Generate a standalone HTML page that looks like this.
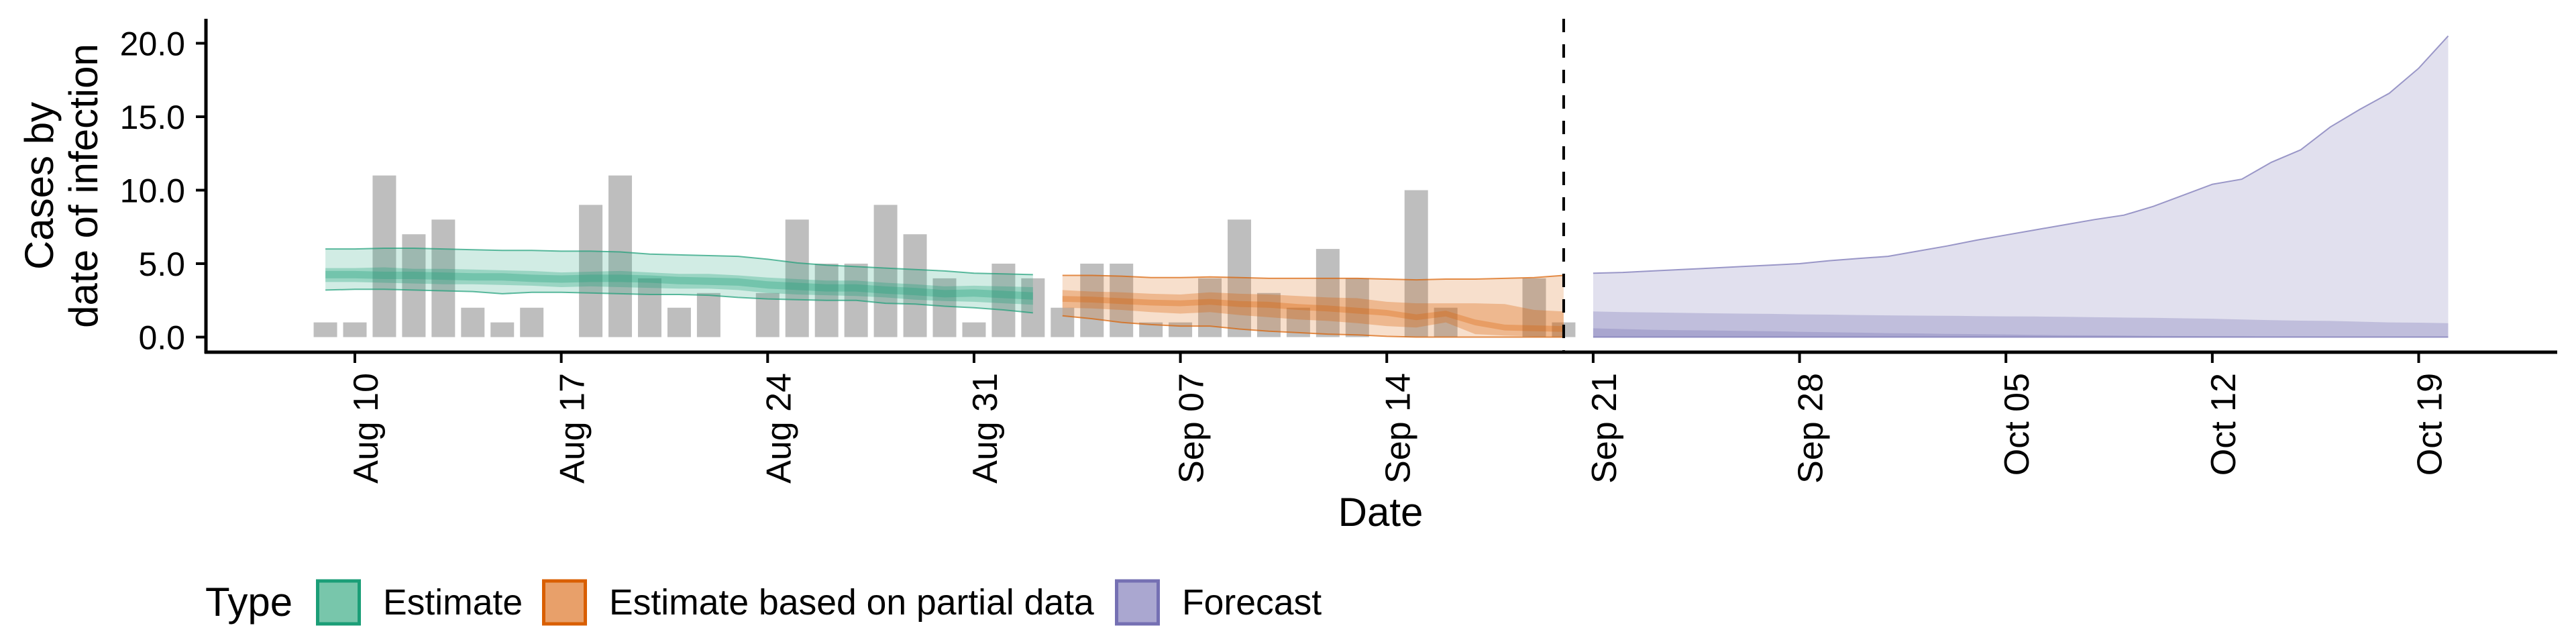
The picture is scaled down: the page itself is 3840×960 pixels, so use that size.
<!DOCTYPE html>
<html><head><meta charset="utf-8"><style>
html,body{margin:0;padding:0;background:#fff;}
svg{display:block;font-family:"Liberation Sans",Arial,sans-serif;}
</style></head><body>
<svg id="chart" width="3840" height="960" viewBox="0 0 3840 960" xmlns="http://www.w3.org/2000/svg">
<g id="bars"></g>
<g id="ribbons"></g>
<g id="axes"></g>
<g id="legend"></g>
</svg>
<script>
// ---- data ----
const barStart = 0; // day index of Aug 09
const caseCounts = [1,1,11,7,8,2,1,2,0,9,11,4,2,3,0,3,8,5,5,9,7,4,1,5,4,2,5,5,1,1,4,8,3,2,6,4,0,10,2,0,0,4,1];
const estStart = 0; // Aug 09
const estU90 = [6.0,6.0,6.05,6.05,6.0,5.95,5.9,5.9,5.85,5.85,5.8,5.65,5.6,5.55,5.5,5.3,5.05,4.9,4.8,4.7,4.6,4.5,4.35,4.3,4.25];
const estU50 = [4.7,4.7,4.75,4.65,4.65,4.6,4.55,4.5,4.4,4.45,4.5,4.4,4.3,4.3,4.2,4.05,3.95,3.85,3.85,3.7,3.6,3.45,3.5,3.45,3.4];
const estU20 = [4.5,4.5,4.45,4.45,4.4,4.35,4.35,4.25,4.2,4.25,4.25,4.2,4.1,4.05,4.0,3.8,3.7,3.6,3.6,3.45,3.35,3.2,3.25,3.15,3.05];
const estL20 = [4.0,4.0,3.95,3.95,3.9,3.85,3.85,3.75,3.7,3.75,3.75,3.7,3.6,3.55,3.5,3.3,3.2,3.1,3.1,2.95,2.85,2.7,2.75,2.65,2.55];
const estL50 = [3.75,3.75,3.7,3.65,3.6,3.6,3.55,3.5,3.4,3.45,3.4,3.35,3.3,3.3,3.2,3.0,2.9,2.85,2.8,2.7,2.55,2.45,2.4,2.3,2.2];
const estL90 = [3.2,3.25,3.25,3.2,3.15,3.1,2.95,3.05,3.05,3.0,2.95,2.9,2.9,2.85,2.7,2.6,2.55,2.5,2.5,2.3,2.25,2.1,2.0,1.85,1.65];
const partStart = 25; // Sep 03
const partU90 = [4.2,4.2,4.15,4.05,4.05,4.1,4.05,4.0,4.0,4.0,4.0,3.95,3.9,3.95,3.95,4.0,4.05,4.2];
const partU50 = [3.2,3.1,3.05,2.95,2.9,3.05,2.95,2.9,2.8,2.7,2.65,2.4,2.3,2.3,2.3,2.25,1.85,1.75];
const partU20 = [2.8,2.75,2.65,2.55,2.5,2.6,2.45,2.4,2.25,2.15,2.0,1.85,1.55,1.8,1.2,0.85,0.8,0.75];
const partL20 = [2.4,2.35,2.25,2.15,2.1,2.2,2.05,2.0,1.85,1.75,1.6,1.45,1.15,1.4,0.8,0.45,0.4,0.35];
const partL50 = [2.0,1.95,1.85,1.7,1.6,1.7,1.5,1.35,1.2,1.1,0.95,0.75,0.65,1.0,0.2,0.1,0.05,0.05];
const partL90 = [1.45,1.25,1.0,0.85,0.75,0.75,0.55,0.4,0.3,0.2,0.15,0.05,0.0,0.0,0.0,0.0,0.0,0.0];
const fcStart = 43; // Sep 21
const fcU90 = [4.35,4.4,4.5,4.6,4.7,4.8,4.9,5.0,5.2,5.35,5.5,5.85,6.2,6.6,6.95,7.3,7.65,8.0,8.3,8.9,9.65,10.4,10.75,11.9,12.75,14.3,15.5,16.6,18.3,20.5];
const fcU50 = [1.75,1.7,1.68,1.65,1.62,1.6,1.58,1.55,1.53,1.5,1.48,1.46,1.45,1.43,1.41,1.4,1.38,1.35,1.33,1.31,1.28,1.25,1.2,1.15,1.12,1.1,1.05,1.0,0.98,0.95];
const fcU20 = [0.6,0.55,0.5,0.47,0.45,0.42,0.4,0.36,0.33,0.3,0.27,0.25,0.22,0.2,0.18,0.15,0.13,0.12,0.1,0.08,0.07,0.06,0.05,0.04,0.03,0.02,0.02,0.01,0.01,0.01];
const fcLow = [0,0,0,0,0,0,0,0,0,0,0,0,0,0,0,0,0,0,0,0,0,0,0,0,0,0,0,0,0,0];
const yTicks = [0,5,10,15,20];
const yTickLabels = ["0.0","5.0","10.0","15.0","20.0"];
const xTickDays = [1,8,15,22,29,36,43,50,57,64,71];
const xTickLabels = ["Aug 10","Aug 17","Aug 24","Aug 31","Sep 07","Sep 14","Sep 21","Sep 28","Oct 05","Oct 12","Oct 19"];
const cutoffDay = 42;
const legendLabels = ["Estimate","Estimate based on partial data","Forecast"];

// ---- scales ----
const X = d => 529 + (d - 1) * 43.95;
const Y = v => 502.5 - v * 21.9;
const NS = "http://www.w3.org/2000/svg";
function mk(tag, parent, attrs){ const e=document.createElementNS(NS,tag); for(const k in attrs) e.setAttribute(k,attrs[k]); parent.appendChild(e); return e; }

// bars
const gb = document.getElementById('bars');
caseCounts.forEach((v,i)=>{
  if(v<=0) return;
  const cx = X(barStart+i);
  const r = mk('rect', gb, {x:cx-17.5, y:Y(v), width:35, height:Y(0)-Y(v), fill:'#bebebe'});
  
  
});

// ribbons
const gr = document.getElementById('ribbons');
function band(start, up, lo, color, op, name, stroke){
  let pts=[];
  up.forEach((v,i)=>pts.push(X(start+i).toFixed(1)+','+Y(v).toFixed(1)));
  for(let i=lo.length-1;i>=0;i--) pts.push(X(start+i).toFixed(1)+','+Y(lo[i]).toFixed(1));
  const p = mk('polygon', gr, {points:pts.join(' '), fill:color, 'fill-opacity':op});
  
  
  if(stroke){
    [up,lo].forEach(arr=>{
      const l = mk('polyline', gr, {points:arr.map((v,i)=>X(start+i).toFixed(1)+','+Y(v).toFixed(1)).join(' '), fill:'none', stroke:color, 'stroke-width':2, 'stroke-opacity':0.7});
      
      
    });
  }
}
band(estStart, estU90, estL90, '#1b9e77', 0.2, 'estimate-90-band', true);
band(estStart, estU50, estL50, '#1b9e77', 0.3, 'estimate-50-band', false);
band(estStart, estU20, estL20, '#1b9e77', 0.3, 'estimate-20-band', false);
band(partStart, partU90, partL90, '#d95f02', 0.2, 'partial-90-band', true);
band(partStart, partU50, partL50, '#d95f02', 0.3, 'partial-50-band', false);
band(partStart, partU20, partL20, '#d95f02', 0.3, 'partial-20-band', false);
band(fcStart, fcU90, fcLow, '#7570b3', 0.22, 'forecast-90-band', true);
band(fcStart, fcU50, fcLow, '#7570b3', 0.3, 'forecast-50-band', false);
band(fcStart, fcU20, fcLow, '#7570b3', 0.3, 'forecast-20-band', false);

// axes
const ga = document.getElementById('axes');
let e;
e = mk('line', ga, {x1:X(cutoffDay), y1:28, x2:X(cutoffDay), y2:525, stroke:'#000', 'stroke-width':4, 'stroke-dasharray':'20 18'});


e = mk('line', ga, {x1:307, y1:28, x2:307, y2:527, stroke:'#000', 'stroke-width':5});


e = mk('line', ga, {x1:305, y1:525, x2:3812, y2:525, stroke:'#000', 'stroke-width':5});


yTicks.forEach((v,i)=>{
  const t = mk('line', ga, {x1:292, y1:Y(v), x2:307, y2:Y(v), stroke:'#000', 'stroke-width':4});
  
  
  const tx = mk('text', ga, {x:276, y:Y(v)+18, 'text-anchor':'end', 'font-size':50, fill:'#000'});
  tx.textContent = yTickLabels[i];
  
  
});
xTickDays.forEach((d,i)=>{
  const x = X(d);
  const t = mk('line', ga, {x1:x, y1:525, x2:x, y2:541, stroke:'#000', 'stroke-width':4});
  
  
  const tx = mk('text', ga, {x:0, y:0, 'text-anchor':'end', 'font-size':52, fill:'#000', transform:`translate(${(x+34).toFixed(1)},556) rotate(-90)`});
  tx.textContent = xTickLabels[i];
  
  
});
e = mk('text', ga, {x:2058, y:784, 'text-anchor':'middle', 'font-size':60, fill:'#000'});
e.textContent = 'Date';


e = mk('text', ga, {x:0, y:0, 'text-anchor':'middle', 'font-size':60, fill:'#000', transform:'translate(79,277) rotate(-90)'});
e.textContent = 'Cases by';


e = mk('text', ga, {x:0, y:0, 'text-anchor':'middle', 'font-size':60, fill:'#000', transform:'translate(145,277) rotate(-90)'});
e.textContent = 'date of infection';



// legend
const gl = document.getElementById('legend');
e = mk('text', gl, {x:306, y:918, 'font-size':60, fill:'#000'});
e.textContent = 'Type';


const keyX = [471, 808, 1662];
const keyFill = ['#78c6ab','#e8a06a','#aaa7d0'];
const keyStroke = ['#1b9e77','#d95f02','#7570b3'];
legendLabels.forEach((lab,i)=>{
  const r = mk('rect', gl, {x:keyX[i]+2.5, y:866, width:62, height:64, fill:keyFill[i], stroke:keyStroke[i], 'stroke-width':5});
  
  
  const t = mk('text', gl, {x:keyX[i]+100, y:916, 'font-size':53.5, fill:'#000'});
  t.textContent = lab;
  
  
});
</script>
</body></html>
